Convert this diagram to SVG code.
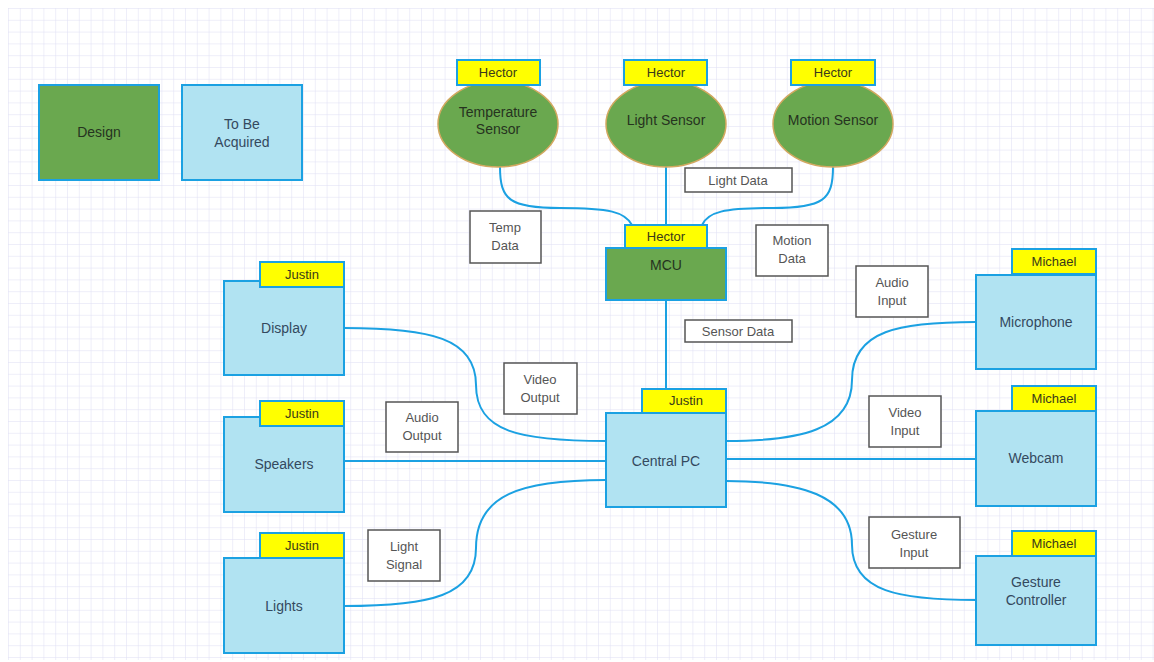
<svg xmlns="http://www.w3.org/2000/svg" width="1154" height="662" viewBox="0 0 1154 662">
<defs>
<pattern id="grid" x="8" y="8" width="11.8" height="11.8" patternUnits="userSpaceOnUse">
<path d="M0,0 H11.8 M0,0 V11.8" fill="none" stroke="#dedef4" stroke-width="1"/>
</pattern>
<style>
.grn{fill:#6aa84f;stroke:#1ba1e2;stroke-width:2}
.blu{fill:#b1e3f2;stroke:#1ba1e2;stroke-width:2}
.yel{fill:#ffff00;stroke:#1ba1e2;stroke-width:2}
.ell{fill:#6aa84f;stroke:#d2a860;stroke-width:1.5}
.lbl{fill:#ffffff;stroke:#555555;stroke-width:1.5}
.con{fill:none;stroke:#1ba1e2;stroke-width:2}
text{font-family:"Liberation Sans",Arial,sans-serif;text-anchor:middle}
.t{font-size:14px;fill:#34495e}
.tg{font-size:14px;fill:#26331f}
.ty{font-size:13px;fill:#3a3a1a}
.tl{font-size:13px;fill:#555555}
</style>
</defs>
<rect width="1154" height="662" fill="#ffffff"/>
<rect x="8" y="8" width="1146" height="652" fill="url(#grid)"/>

<g id="connectors">
<path class="con" d="M500,167 C500,200 510,208 560,208 C610,208 625,212 632,225"/>
<path class="con" d="M666,167 V225"/>
<path class="con" d="M833,167 C833,200 823,208 773,208 C723,208 708,212 702,225"/>
<path class="con" d="M666,300 V413"/>
<path class="con" d="M344,328 C430,328 476,338 476,385 C476,432 520,441 606,441"/>
<path class="con" d="M344,461 H606"/>
<path class="con" d="M344,606 C430,606 476,596 476,548 C476,495 520,480 606,480"/>
<path class="con" d="M976,322 C900,322 852,330 852,380 C852,430 800,441 726,441"/>
<path class="con" d="M726,459 H976"/>
<path class="con" d="M976,600 C900,600 852,592 852,545 C852,495 800,481 726,481"/>
</g>

<g id="legend-design"><rect class="grn" x="39" y="85" width="120" height="95"/><text class="tg" x="99" y="137">Design</text></g>
<g id="legend-acquire"><rect class="blu" x="182" y="85" width="120" height="95"/><text class="t" x="242" y="129">To Be</text><text class="t" x="242" y="147">Acquired</text></g>

<g id="temp-sensor"><ellipse class="ell" cx="498" cy="124" rx="60" ry="43"/><rect class="yel" x="457" y="60" width="83" height="25"/><text class="ty" x="498" y="77">Hector</text><text class="tg" x="498" y="117">Temperature</text><text class="tg" x="498" y="134">Sensor</text></g>
<g id="light-sensor"><ellipse class="ell" cx="666" cy="124" rx="60" ry="43"/><rect class="yel" x="624" y="60" width="83" height="25"/><text class="ty" x="666" y="77">Hector</text><text class="tg" x="666" y="125">Light Sensor</text></g>
<g id="motion-sensor"><ellipse class="ell" cx="833" cy="124" rx="60" ry="43"/><rect class="yel" x="791" y="60" width="84" height="25"/><text class="ty" x="833" y="77">Hector</text><text class="tg" x="833" y="125">Motion Sensor</text></g>

<g id="mcu"><rect class="grn" x="606" y="248" width="120" height="52"/><rect class="yel" x="625" y="225" width="82" height="23"/><text class="ty" x="666" y="241">Hector</text><text class="tg" x="666" y="270">MCU</text></g>

<g id="central-pc"><rect class="blu" x="606" y="413" width="120" height="94"/><rect class="yel" x="642" y="389" width="84" height="24"/><text class="ty" x="686" y="405">Justin</text><text class="t" x="666" y="466">Central PC</text></g>

<g id="display"><rect class="blu" x="224" y="281" width="120" height="94"/><rect class="yel" x="260" y="262" width="84" height="25"/><text class="ty" x="302" y="279">Justin</text><text class="t" x="284" y="333">Display</text></g>
<g id="speakers"><rect class="blu" x="224" y="417" width="120" height="95"/><rect class="yel" x="260" y="401" width="84" height="25"/><text class="ty" x="302" y="418">Justin</text><text class="t" x="284" y="469">Speakers</text></g>
<g id="lights"><rect class="blu" x="224" y="558" width="120" height="95"/><rect class="yel" x="260" y="533" width="84" height="25"/><text class="ty" x="302" y="550">Justin</text><text class="t" x="284" y="611">Lights</text></g>

<g id="microphone"><rect class="blu" x="976" y="275" width="120" height="94"/><rect class="yel" x="1012" y="249" width="84" height="25"/><text class="ty" x="1054" y="266">Michael</text><text class="t" x="1036" y="327">Microphone</text></g>
<g id="webcam"><rect class="blu" x="976" y="411" width="120" height="95"/><rect class="yel" x="1012" y="386" width="84" height="25"/><text class="ty" x="1054" y="403">Michael</text><text class="t" x="1036" y="463">Webcam</text></g>
<g id="gesture-controller"><rect class="blu" x="976" y="556" width="120" height="89"/><rect class="yel" x="1012" y="531" width="84" height="25"/><text class="ty" x="1054" y="548">Michael</text><text class="t" x="1036" y="587">Gesture</text><text class="t" x="1036" y="605">Controller</text></g>

<g id="label-temp"><rect class="lbl" x="470" y="211" width="71" height="52"/><text class="tl" x="505" y="232">Temp</text><text class="tl" x="505" y="250">Data</text></g>
<g id="label-light"><rect class="lbl" x="685" y="168" width="107" height="24"/><text class="tl" x="738" y="185">Light Data</text></g>
<g id="label-motion"><rect class="lbl" x="756" y="225" width="72" height="51"/><text class="tl" x="792" y="245">Motion</text><text class="tl" x="792" y="263">Data</text></g>
<g id="label-sensor"><rect class="lbl" x="685" y="320" width="107" height="22"/><text class="tl" x="738" y="336">Sensor Data</text></g>
<g id="label-video-out"><rect class="lbl" x="504" y="363" width="73" height="51"/><text class="tl" x="540" y="384">Video</text><text class="tl" x="540" y="402">Output</text></g>
<g id="label-audio-out"><rect class="lbl" x="386" y="402" width="72" height="50"/><text class="tl" x="422" y="422">Audio</text><text class="tl" x="422" y="440">Output</text></g>
<g id="label-light-signal"><rect class="lbl" x="368" y="530" width="72" height="51"/><text class="tl" x="404" y="551">Light</text><text class="tl" x="404" y="569">Signal</text></g>
<g id="label-audio-in"><rect class="lbl" x="856" y="266" width="72" height="51"/><text class="tl" x="892" y="287">Audio</text><text class="tl" x="892" y="305">Input</text></g>
<g id="label-video-in"><rect class="lbl" x="869" y="396" width="72" height="51"/><text class="tl" x="905" y="417">Video</text><text class="tl" x="905" y="435">Input</text></g>
<g id="label-gesture-in"><rect class="lbl" x="869" y="517" width="91" height="51"/><text class="tl" x="914" y="539">Gesture</text><text class="tl" x="914" y="557">Input</text></g>
</svg>
